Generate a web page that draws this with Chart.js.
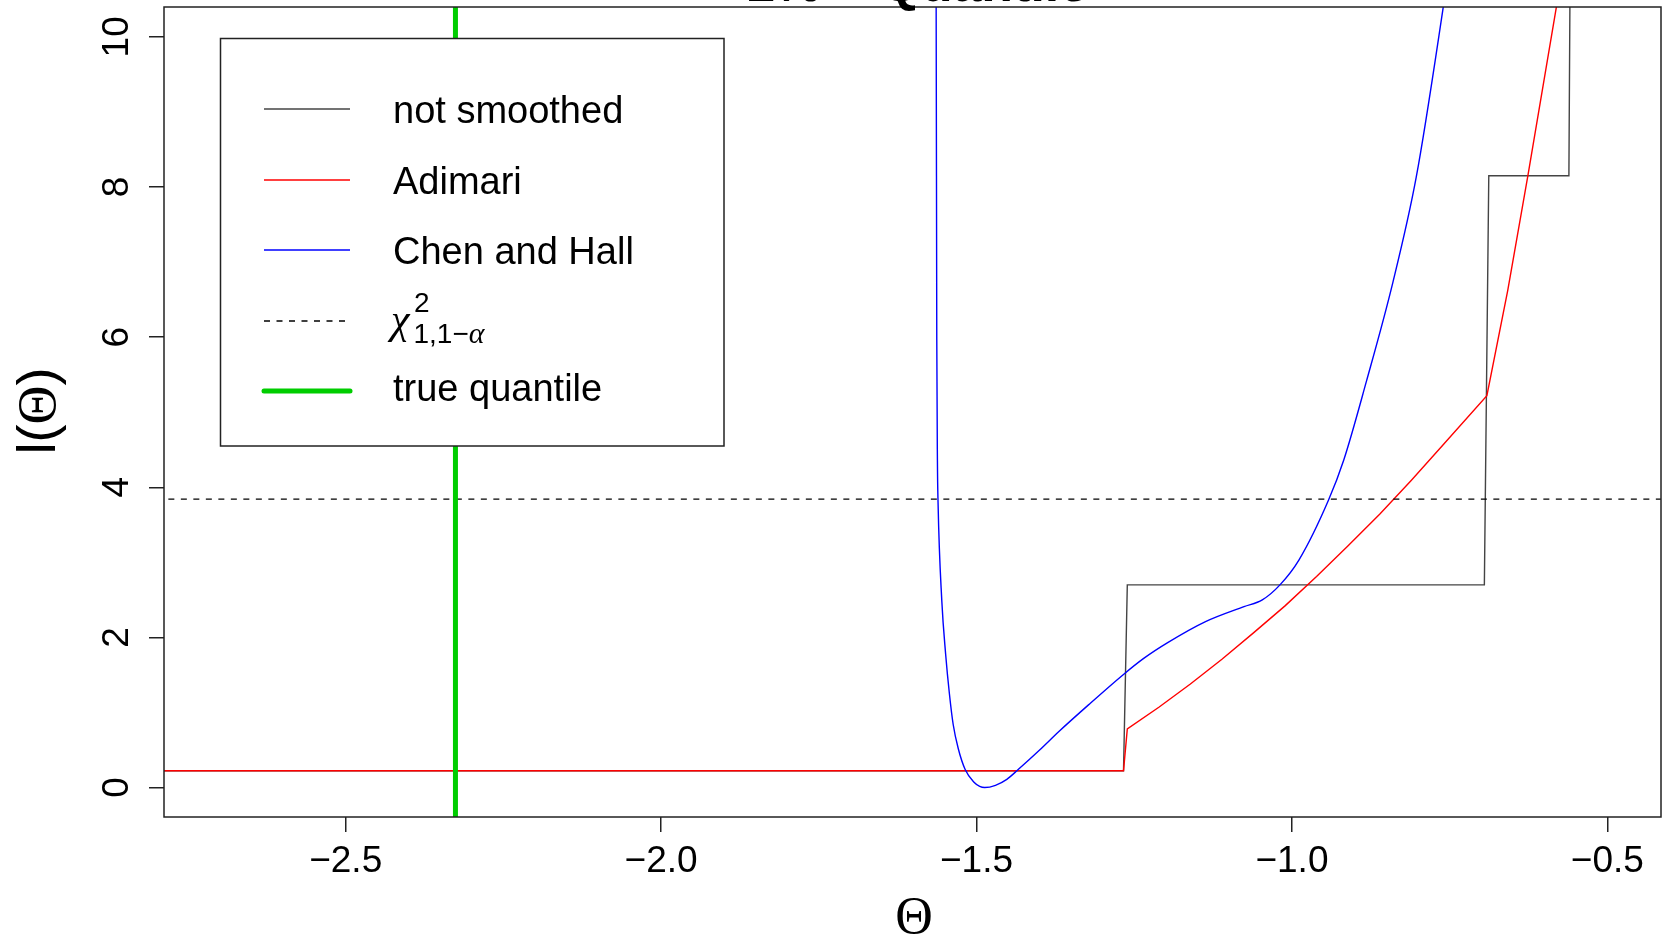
<!DOCTYPE html>
<html>
<head>
<meta charset="utf-8">
<script src="https://cdn.jsdelivr.net/npm/chart.js@4.4.1/dist/chart.umd.min.js"></script>
<style>
  html, body { margin: 0; padding: 0; background: #fff; }
  canvas { display: block; }
</style>
</head>
<body>
<canvas id="ratioChart" width="1662" height="936"></canvas>
<script>
// axis ticks
var xTicks = [-2.5, -2.0, -1.5, -1.0, -0.5];
var xTickLabels = ['\u22122.5', '\u22122.0', '\u22121.5', '\u22121.0', '\u22120.5'];
var yTicks = [0, 2, 4, 6, 8, 10];
var yTickLabels = ['0', '2', '4', '6', '8', '10'];

// empirical likelihood ratio, not smoothed (step function)
var rawX = [-2.8, -1.267, -1.261, -0.695, -0.688, -0.561, -0.559];
var rawY = [0.225, 0.225, 2.70, 2.70, 8.15, 8.15, 11.0];

// Adimari smoothing
var adimariX = [-2.8, -1.267, -1.261, -1.211, -1.161, -1.111, -1.061, -1.011, -0.961, -0.911, -0.861, -0.811, -0.761,
                -0.691, -0.658, -0.626, -0.581, -0.57];
var adimariY = [0.225, 0.225, 0.78, 1.07, 1.38, 1.71, 2.06, 2.42, 2.81, 3.22, 3.64, 4.09, 4.56,
                5.22, 6.62, 8.15, 10.39, 10.95];

// Chen and Hall smoothing
var chenHallX = [-1.5645, -1.564, -1.563, -1.562, -1.561, -1.555, -1.549, -1.543, -1.537, -1.529, -1.518, -1.504, -1.495,
                 -1.487, -1.470, -1.452, -1.434, -1.40, -1.369, -1.32, -1.268, -1.235, -1.197, -1.137, -1.076, -1.047,
                 -1.019, -0.989, -0.942, -0.918, -0.882, -0.840, -0.803, -0.761, -0.755];
var chenHallY = [11.0, 10.39, 5.96, 4.36, 3.80, 2.48, 1.78, 1.25, 0.84, 0.52, 0.24, 0.07, 0.015,
                 0.0, 0.03, 0.11, 0.24, 0.50, 0.75, 1.12, 1.50, 1.72, 1.93, 2.21, 2.41, 2.50,
                 2.70, 3.03, 3.83, 4.36, 5.41, 6.73, 8.13, 10.35, 10.7];

var chiSquare = 3.841;      // chi^2_{1, 0.95}
var trueQuantile = -2.326;  // qnorm(0.01)

var legendLabels = ['not smoothed', 'Adimari', 'Chen and Hall', 'chi', 'true quantile'];

function toPoints(xs, ys) {
    var pts = [];
    for (var i = 0; i < xs.length; i++) {
        pts.push({ x: xs[i], y: ys[i] });
    }
    return pts;
}

var SANS = '"Liberation Sans", Arial, sans-serif';
var SERIF = '"Liberation Serif", "Times New Roman", serif';

// box, tick labels, axis titles and legend in R base-graphics style
var frameLabels = {
    id: 'frameLabels',
    afterDraw: function (chart) {
        var ctx = chart.ctx;
        var area = chart.chartArea;
        var xs = chart.scales.x;
        var ys = chart.scales.y;

        ctx.save();
        ctx.strokeStyle = '#222';
        ctx.lineWidth = 1.5;
        ctx.strokeRect(area.left, area.top, area.right - area.left, area.bottom - area.top);

        // main title, mostly cut off at the top edge
        ctx.fillStyle = '#000';
        ctx.font = 'bold 52px ' + SANS;
        ctx.textAlign = 'center';
        ctx.textBaseline = 'alphabetic';
        ctx.fillText('1% \u2212 Quantile', 917, 1);

        // x tick labels
        ctx.font = '37px ' + SANS;
        for (var i = 0; i < xTicks.length; i++) {
            ctx.fillText(xTickLabels[i], xs.getPixelForValue(xTicks[i]), 872);
        }
        // y tick labels, rotated
        for (var j = 0; j < yTicks.length; j++) {
            ctx.save();
            ctx.translate(128, ys.getPixelForValue(yTicks[j]));
            ctx.rotate(-Math.PI / 2);
            ctx.fillText(yTickLabels[j], 0, 0);
            ctx.restore();
        }

        // axis titles
        ctx.font = '52px ' + SERIF;
        ctx.fillText('\u0398', 914, 933);

        ctx.save();
        ctx.translate(55, 411);
        ctx.rotate(-Math.PI / 2);
        ctx.textAlign = 'left';
        var parts = [['l(', '54px ' + SANS], ['\u0398', '54px ' + SERIF], [')', '54px ' + SANS]];
        var total = 0;
        parts.forEach(function (p) { ctx.font = p[1]; total += ctx.measureText(p[0]).width; });
        var px = -total / 2;
        parts.forEach(function (p) {
            ctx.font = p[1];
            ctx.fillText(p[0], px, 0);
            px += ctx.measureText(p[0]).width;
        });
        ctx.restore();

        // legend
        ctx.fillStyle = '#fff';
        ctx.fillRect(220.5, 38.5, 503.5, 407.5);
        ctx.strokeStyle = '#222';
        ctx.lineWidth = 1.5;
        ctx.strokeRect(220.5, 38.5, 503.5, 407.5);

        var rows = [109, 180, 250, 321, 391];
        var textBase = [123, 193.5, 263.5, 0, 401];
        var styles = [
            { color: '#444', width: 1.4, dash: [] },
            { color: '#ff0000', width: 1.4, dash: [] },
            { color: '#0000ff', width: 1.4, dash: [] },
            { color: '#000', width: 1.3, dash: [6, 6.5] },
            { color: '#00cd00', width: 5, dash: [] }
        ];
        for (var k = 0; k < rows.length; k++) {
            ctx.beginPath();
            ctx.strokeStyle = styles[k].color;
            ctx.lineWidth = styles[k].width;
            ctx.setLineDash(styles[k].dash);
            ctx.lineCap = k === 4 ? 'round' : 'butt';
            ctx.moveTo(264, rows[k]);
            ctx.lineTo(350, rows[k]);
            ctx.stroke();
        }
        ctx.setLineDash([]);

        ctx.fillStyle = '#000';
        ctx.textAlign = 'left';
        ctx.font = '38px ' + SANS;
        for (var m = 0; m < rows.length; m++) {
            if (legendLabels[m] === 'chi') continue;
            ctx.fillText(legendLabels[m], 393, textBase[m]);
        }
        // chi^2 with sub/superscripts
        ctx.font = 'italic 42px ' + SERIF;
        ctx.fillText('\u03c7', 391, 333);
        ctx.font = '28px ' + SANS;
        ctx.fillText('2', 414, 312);
        ctx.fillText('1,1\u2212', 413.5, 343);
        var subW = ctx.measureText('1,1\u2212').width;
        ctx.font = 'italic 30px ' + SERIF;
        ctx.fillText('\u03b1', 413.5 + subW, 343);

        ctx.restore();
    }
};

new Chart(document.getElementById('ratioChart'), {
    type: 'line',
    data: {
        datasets: [
            {
                label: 'true quantile',
                data: toPoints([trueQuantile, trueQuantile], [-1, 11]),
                borderColor: '#00cd00',
                borderWidth: 5,
                pointRadius: 0,
                clip: 0
            },
            {
                label: 'chi-square',
                data: toPoints([-2.9, -0.3], [chiSquare, chiSquare]),
                borderColor: '#000',
                borderWidth: 1.3,
                borderDash: [6, 6.5],
                pointRadius: 0,
                clip: 0
            },
            {
                label: 'Chen and Hall',
                data: toPoints(chenHallX, chenHallY),
                borderColor: '#0000ff',
                borderWidth: 1.4,
                cubicInterpolationMode: 'monotone',
                pointRadius: 0,
                clip: 0
            },
            {
                label: 'Adimari',
                data: toPoints(adimariX, adimariY),
                borderColor: '#ff0000',
                borderWidth: 1.4,
                tension: 0,
                pointRadius: 0,
                clip: 0
            },
            {
                label: 'not smoothed',
                data: toPoints(rawX, rawY),
                borderColor: '#444',
                borderWidth: 1.4,
                tension: 0,
                pointRadius: 0,
                clip: 0
            }
        ]
    },
    options: {
        responsive: false,
        devicePixelRatio: 1,
        animation: false,
        layout: { padding: { top: 7, right: 1, left: 0, bottom: 0 } },
        plugins: {
            legend: { display: false },
            tooltip: { enabled: false }
        },
        scales: {
            x: {
                type: 'linear',
                min: -2.788,
                max: -0.415,
                afterBuildTicks: function (scale) {
                    scale.ticks = xTicks.map(function (v) { return { value: v }; });
                },
                afterFit: function (scale) { scale.height = 119; },
                ticks: { display: false },
                grid: { drawOnChartArea: false, drawTicks: true, tickLength: 15, color: '#222', lineWidth: 1.5 },
                border: { display: false }
            },
            y: {
                type: 'linear',
                min: -0.392,
                max: 10.397,
                afterBuildTicks: function (scale) {
                    scale.ticks = yTicks.map(function (v) { return { value: v }; });
                },
                afterFit: function (scale) { scale.width = 164; },
                ticks: { display: false },
                grid: { drawOnChartArea: false, drawTicks: true, tickLength: 15, color: '#222', lineWidth: 1.5 },
                border: { display: false }
            }
        }
    },
    plugins: [frameLabels]
});
</script>
</body>
</html>
